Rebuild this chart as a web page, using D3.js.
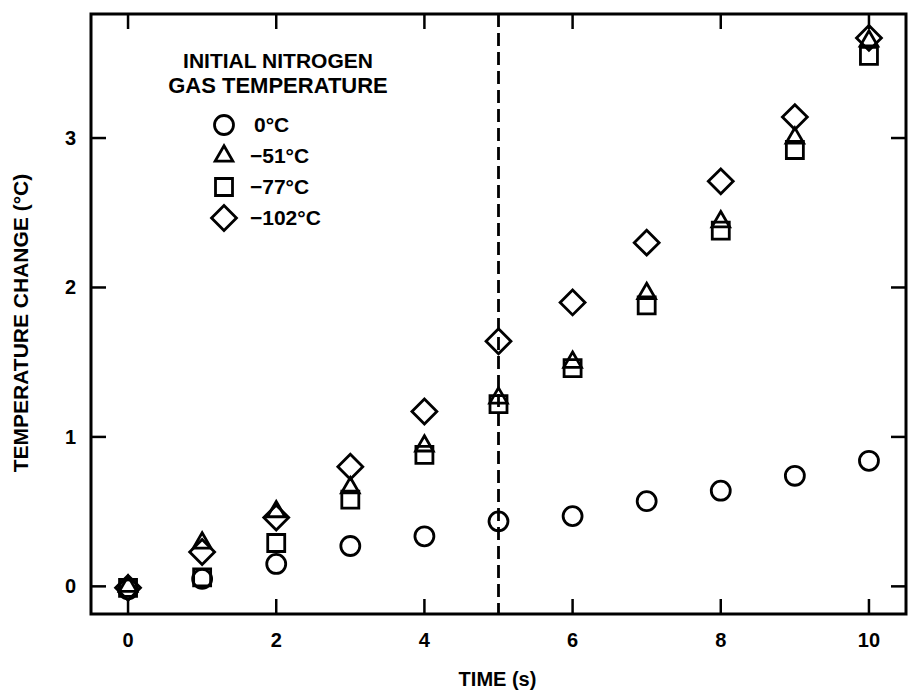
<!DOCTYPE html>
<html>
<head>
<meta charset="utf-8">
<script src="https://cdn.jsdelivr.net/npm/d3@7"></script>
<style>
  body { margin: 0; background: #fff; }
  svg { display: block; font-family: "Liberation Sans", Arial, sans-serif; font-weight: bold; }
  .frame { fill: none; stroke: #000; stroke-width: 3; }
  .tick-mark { stroke: #000; stroke-width: 2.5; }
  .mark { fill: none; stroke: #000; stroke-width: 2.8; }
</style>
</head>
<body>
<div id="chart"></div>
<script>
// time in seconds
const times = [0, 1, 2, 3, 4, 5, 6, 7, 8, 9, 10];

// temperature change (°C) for each initial nitrogen gas temperature
const t0   = [-0.02, 0.05, 0.15, 0.27, 0.335, 0.435, 0.47, 0.57, 0.64, 0.74, 0.84];
const t51  = [0.00, 0.29, 0.50, 0.66, 0.94, 1.26, 1.50, 1.96, 2.44, 3.00, 3.65];
const t77  = [-0.01, 0.06, 0.29, 0.58, 0.88, 1.22, 1.46, 1.88, 2.38, 2.92, 3.55];
const t102 = [-0.01, 0.23, 0.46, 0.80, 1.17, 1.64, 1.90, 2.30, 2.71, 3.14, 3.67];

const seriesLabels = ["0°C", "−51°C", "−77°C", "−102°C"];
const legendTitle = ["INITIAL NITROGEN", "GAS TEMPERATURE"];

const xTicks = [0, 2, 4, 6, 8, 10];
const yTicks = [0, 1, 2, 3];
const cutoffTime = 5;

const W = 914, H = 694;
const plot = { left: 91, right: 906, top: 14, bottom: 614 };

const x = d3.scaleLinear().domain([-0.5, 10.5]).range([plot.left, plot.right]);
const y = d3.scaleLinear().domain([-0.185, 3.83]).range([plot.bottom, plot.top]);

const shapes = [
    { type: d3.symbolCircle, size: 283, rot: 0 },
    { type: d3.symbolTriangle, size: 135, rot: 0 },
    { type: d3.symbolSquare, size: 289, rot: 0 },
    { type: d3.symbolSquare, size: 310, rot: 45 }
];

const series = [t0, t51, t77, t102].map((vals, i) => ({
    label: seriesLabels[i],
    shape: shapes[i],
    points: vals.map((v, j) => ({ t: times[j], v: v }))
}));

const svg = d3.select("#chart").append("svg")
    .attr("width", W)
    .attr("height", H);

// dashed line at the cutoff time
svg.append("line")
    .attr("x1", x(cutoffTime)).attr("x2", x(cutoffTime))
    .attr("y1", plot.top).attr("y2", plot.bottom)
    .attr("stroke", "#000")
    .attr("stroke-width", 2.8)
    .attr("stroke-dasharray", "13,6");

// ticks, all pointing inward
const tickLen = 15;
const ticks = svg.append("g");
xTicks.forEach(t => {
    ticks.append("line").attr("class", "tick-mark")
        .attr("x1", x(t)).attr("x2", x(t))
        .attr("y1", plot.bottom).attr("y2", plot.bottom - tickLen);
    ticks.append("line").attr("class", "tick-mark")
        .attr("x1", x(t)).attr("x2", x(t))
        .attr("y1", plot.top).attr("y2", plot.top + tickLen);
});
yTicks.forEach(v => {
    ticks.append("line").attr("class", "tick-mark")
        .attr("x1", plot.left).attr("x2", plot.left + tickLen)
        .attr("y1", y(v)).attr("y2", y(v));
    ticks.append("line").attr("class", "tick-mark")
        .attr("x1", plot.right).attr("x2", plot.right - tickLen)
        .attr("y1", y(v)).attr("y2", y(v));
});

// tick labels
svg.append("g").selectAll("text")
    .data(xTicks)
    .join("text")
    .attr("x", d => x(d))
    .attr("y", plot.bottom + 33)
    .attr("text-anchor", "middle")
    .attr("font-size", 20)
    .text(d => d);

svg.append("g").selectAll("text")
    .data(yTicks)
    .join("text")
    .attr("x", plot.left - 15)
    .attr("y", d => y(d) + 7)
    .attr("text-anchor", "end")
    .attr("font-size", 20)
    .text(d => d);

// frame
svg.append("rect").attr("class", "frame")
    .attr("x", plot.left).attr("y", plot.top)
    .attr("width", plot.right - plot.left)
    .attr("height", plot.bottom - plot.top);

// axis titles
svg.append("text")
    .attr("x", (plot.left + plot.right) / 2 - 1)
    .attr("y", 686)
    .attr("text-anchor", "middle")
    .attr("font-size", 20)
    .text("TIME (s)");

svg.append("text")
    .attr("transform", `translate(28,323) rotate(-90)`)
    .attr("text-anchor", "middle")
    .attr("font-size", 21)
    .text("TEMPERATURE CHANGE (°C)");

// data markers
const symbol = d3.symbol();
const marks = svg.append("g");
series.forEach(s => {
    marks.selectAll(null)
        .data(s.points)
        .join("path")
        .attr("class", "mark")
        .attr("transform", d => `translate(${x(d.t)},${y(d.v)}) rotate(${s.shape.rot})`)
        .attr("d", symbol.type(s.shape.type).size(s.shape.size)());
});

// legend
const legend = svg.append("g");
legend.selectAll("text.title")
    .data(legendTitle)
    .join("text")
    .attr("class", "title")
    .attr("x", 278)
    .attr("y", (d, i) => 68 + i * 25)
    .attr("text-anchor", "middle")
    .attr("font-size", (d, i) => i === 0 ? 21 : 22)
    .text(d => d);

series.forEach((s, i) => {
    const ly = 125 + i * 31;
    legend.append("path")
        .attr("class", "mark")
        .attr("transform", `translate(224,${ly}) rotate(${s.shape.rot})`)
        .attr("d", symbol.type(s.shape.type).size(s.shape.size)());
    legend.append("text")
        .attr("x", i === 0 ? 254 : 250)
        .attr("y", ly + 7)
        .attr("font-size", 21)
        .text(s.label);
});
</script>
</body>
</html>
